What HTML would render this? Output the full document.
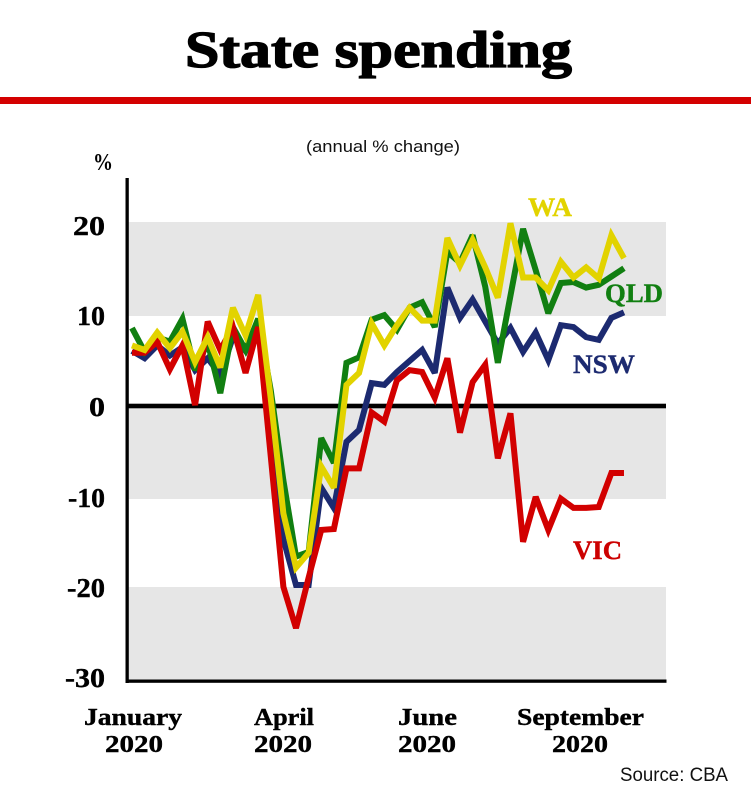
<!DOCTYPE html>
<html>
<head>
<meta charset="utf-8">
<style>
  html, body { margin: 0; padding: 0; background: #ffffff; }
  body { width: 751px; height: 800px; overflow: hidden; }
  svg { display: block; }
  .serif { font-family: "Liberation Serif", "DejaVu Serif", serif; font-weight: bold; }
  .sans { font-family: "Liberation Sans", "DejaVu Sans", sans-serif; }
</style>
</head>
<body>
<svg width="751" height="800" viewBox="0 0 751 800" xmlns="http://www.w3.org/2000/svg">
  <rect x="0" y="0" width="751" height="800" fill="#ffffff"/>

  <!-- Title -->
  <text class="serif" x="185" y="67" font-size="52" fill="#000" stroke="#000" stroke-width="1.3" textLength="387" lengthAdjust="spacingAndGlyphs">State spending</text>
  <!-- Red rule -->
  <rect x="0" y="97" width="751" height="7" fill="#d40000"/>

  <!-- Subtitle -->
  <text class="sans" x="306" y="152" font-size="17" fill="#111" textLength="154" lengthAdjust="spacingAndGlyphs">(annual % change)</text>

  <!-- Gray bands -->
  <rect x="128" y="222" width="538" height="94" fill="#e6e6e6"/>
  <rect x="128" y="406" width="538" height="93" fill="#e6e6e6"/>
  <rect x="128" y="587" width="538" height="94" fill="#e6e6e6"/>

  <!-- Zero line -->
  <rect x="127" y="403.7" width="539" height="4.6" fill="#000"/>

  <!-- Axes -->
  <rect x="125.5" y="178" width="3.3" height="505" fill="#000"/>
  <rect x="125.5" y="679.5" width="541" height="3.3" fill="#000"/>

  <!-- Y labels -->
  <text class="serif" x="93" y="170" font-size="24" fill="#000" textLength="20" lengthAdjust="spacingAndGlyphs">%</text>
  <g class="serif" font-size="27" fill="#000" stroke="#000" stroke-width="0.4" text-anchor="end">
    <text x="105" y="235" textLength="32" lengthAdjust="spacingAndGlyphs">20</text>
    <text x="105" y="325" textLength="28" lengthAdjust="spacingAndGlyphs">10</text>
    <text x="105" y="416" textLength="16" lengthAdjust="spacingAndGlyphs">0</text>
    <text x="105" y="507" textLength="37" lengthAdjust="spacingAndGlyphs">-10</text>
    <text x="105" y="597" textLength="38" lengthAdjust="spacingAndGlyphs">-20</text>
    <text x="105" y="687" textLength="40" lengthAdjust="spacingAndGlyphs">-30</text>
  </g>

  <!-- Series -->
  <g transform="matrix(12.615 0 0 -9.18 132 406)" fill="none" stroke-linejoin="miter" stroke-miterlimit="3" stroke-linecap="butt">
    <polyline vector-effect="non-scaling-stroke" stroke="#1c2a70" stroke-width="6"
      points="0,6.0 1,5.2 2,6.6 3,5.5 4,6.4 5,3.9 6,5.2 7,3.4 8,7.5 9,6.0 10,9.0 11,-2.5 12,-14.5 13,-19.5 14,-19.5 15,-8.9 16,-11.1 17,-3.9 18,-2.6 19,2.5 20,2.3 21,3.7 22,4.9 23,6.1 24,3.6 25,12.9 26,9.6 27,11.6 28,9.2 29,6.8 30,8.5 31,5.9 32,8.0 33,5.0 34,8.8 35,8.6 36,7.5 37,7.2 38,9.6 39,10.2"/>
    <polyline vector-effect="non-scaling-stroke" stroke="#117f11" stroke-width="6"
      points="0,8.5 1,5.9 2,7.5 3,7.0 4,9.5 5,3.9 6,6.9 7,1.4 8,8.6 9,6.1 10,9.5 11,1.7 12,-8.1 13,-16.4 14,-15.9 15,-3.5 16,-6.2 17,4.7 18,5.3 19,9.4 20,9.9 21,8.3 22,10.7 23,11.3 24,8.6 25,16.8 26,15.6 27,18.6 28,13.0 29,4.7 30,12.0 31,19.3 32,14.8 33,10.1 34,13.4 35,13.5 36,12.9 37,13.2 38,14.1 39,15.0"/>
    <polyline vector-effect="non-scaling-stroke" stroke="#d20000" stroke-width="6"
      points="0,5.8 1,5.8 2,7.0 3,4.0 4,6.6 5,0.1 6,9.2 7,6.1 8,8.6 9,3.6 10,8.6 11,-5.5 12,-19.7 13,-24.2 14,-18.7 15,-13.5 16,-13.4 17,-6.8 18,-6.8 19,-0.7 20,-1.7 21,2.8 22,3.9 23,3.7 24,0.9 25,5.2 26,-2.9 27,2.6 28,4.5 29,-5.7 30,-0.8 31,-14.8 32,-9.9 33,-13.5 34,-10.1 35,-11.1 36,-11.1 37,-11.0 38,-7.3 39,-7.3"/>
    <polyline vector-effect="non-scaling-stroke" stroke="#e2d300" stroke-width="6"
      points="0,6.6 1,6.1 2,8.0 3,6.3 4,8.1 5,4.8 6,7.5 7,4.2 8,10.7 9,7.7 10,12.1 11,0.8 12,-11.7 13,-17.6 14,-16.0 15,-6.6 16,-8.9 17,2.3 18,3.6 19,9.0 20,6.6 21,8.8 22,10.7 23,9.3 24,9.3 25,18.3 26,15.3 27,18.1 28,15.1 29,11.8 30,19.9 31,14.0 32,14.0 33,12.6 34,15.7 35,14.0 36,15.1 37,13.9 38,18.6 39,16.1"/>
  </g>

  <!-- Series labels -->
  <g class="serif" font-size="26">
    <text x="528" y="216" fill="#e2d300" stroke="#e2d300" stroke-width="0.4" textLength="44" lengthAdjust="spacingAndGlyphs">WA</text>
    <text x="605" y="302" fill="#117f11" stroke="#117f11" stroke-width="0.4" textLength="58" lengthAdjust="spacingAndGlyphs">QLD</text>
    <text x="573" y="373" fill="#1c2a70" stroke="#1c2a70" stroke-width="0.4" textLength="62" lengthAdjust="spacingAndGlyphs">NSW</text>
    <text x="573" y="559" fill="#cc0000" stroke="#cc0000" stroke-width="0.4" textLength="49" lengthAdjust="spacingAndGlyphs">VIC</text>
  </g>

  <!-- X labels -->
  <g class="serif" font-size="24" fill="#000" stroke="#000" stroke-width="0.4">
    <text x="84" y="725" textLength="98" lengthAdjust="spacingAndGlyphs">January</text>
    <text x="105" y="752" textLength="58" lengthAdjust="spacingAndGlyphs">2020</text>
    <text x="254" y="725" textLength="60" lengthAdjust="spacingAndGlyphs">April</text>
    <text x="254" y="752" textLength="58" lengthAdjust="spacingAndGlyphs">2020</text>
    <text x="398" y="725" textLength="59" lengthAdjust="spacingAndGlyphs">June</text>
    <text x="398" y="752" textLength="58" lengthAdjust="spacingAndGlyphs">2020</text>
    <text x="517" y="725" textLength="127" lengthAdjust="spacingAndGlyphs">September</text>
    <text x="552" y="752" textLength="56" lengthAdjust="spacingAndGlyphs">2020</text>
  </g>

  <!-- Source -->
  <text class="sans" x="620" y="781" font-size="19" fill="#111" textLength="108" lengthAdjust="spacingAndGlyphs">Source: CBA</text>
</svg>
</body>
</html>
